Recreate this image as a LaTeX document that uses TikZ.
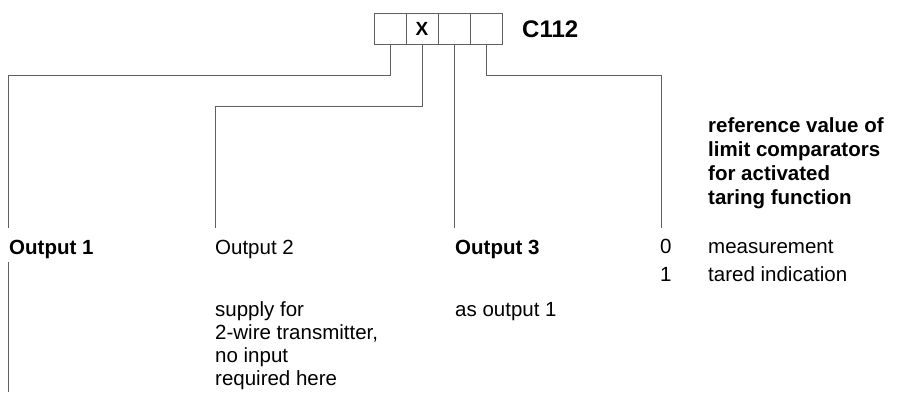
\documentclass[tikz,border=0pt]{standalone}
\usepackage{fontspec}
\setmainfont{Liberation Sans}
\usetikzlibrary{positioning}
\definecolor{wiregray}{RGB}{95,95,95}
\tikzset{
  cell/.style={draw=wiregray,line width=0.9pt,minimum width=32pt,minimum height=31pt,inner sep=0pt,font=\fontsize{19}{19}\selectfont\bfseries},
  wire/.style={wiregray,line width=0.9pt},
  txt/.style={anchor=base west,inner sep=0pt,font=\fontsize{20.5}{23}\selectfont},
  btxt/.style={txt,font=\fontsize{20.5}{23}\selectfont\bfseries},
  codelab/.style={txt,font=\fontsize{24}{24}\selectfont\bfseries}
}

\begin{document}
\begin{tikzpicture}[x=1pt,y=-1pt]
  \useasboundingbox (0,0) rectangle (922,392);
  % code boxes
  \foreach \i/\t in {1/,2/X,3/,4/}{
    \node[cell] (c\i) at (358+32*\i,28.5) {\t};}
  \node[codelab] (code) at (522,37) {C112};
  % outputs
  \node[btxt] (out1) at (9,254) {Output 1};
  \node[txt] (out2) at (215,254) {Output 2};
  \node[btxt] (out3) at (455,254) {Output 3};
  \foreach \t [count=\k] in {supply for,{2-wire transmitter,},no input,required here}
    \node[txt] (sup\k) at (215,293+23*\k) {\t};
  \node[txt] (as1) at (455,316) {as output 1};
  % taring reference
  \foreach \t [count=\k] in {reference value of,limit comparators,for activated,taring function}
    \node[btxt] (ref\k) at (708,108+24*\k) {\t};
  \node[txt] (v0) at (660,253) {0};
  \node[txt] (m0) at (708,253) {measurement};
  \node[txt] (v1) at (660,281) {1};
  \node[txt] (m1) at (708,281) {tared indication};
  % wires
  \coordinate (k1) at (8,75);   \coordinate (e1) at (8,228);
  \coordinate (k2) at (215,106); \coordinate (e2) at (215,228);
  \coordinate (e3) at (454,228);
  \coordinate (k4) at (661,75); \coordinate (e4) at (661,228);
  \coordinate (f1) at (8,262);  \coordinate (g1) at (8,392);
  \draw[wire] (c1.south) |- (k1) -- (e1);
  \draw[wire] (c2.south) |- (k2) -- (e2);
  \draw[wire] (c3.south) -- (c3.south |- e3);
  \draw[wire] (c4.south) |- (k4) -- (e4);
  \draw[wire] (f1) -- (g1);
\end{tikzpicture}
\end{document}
